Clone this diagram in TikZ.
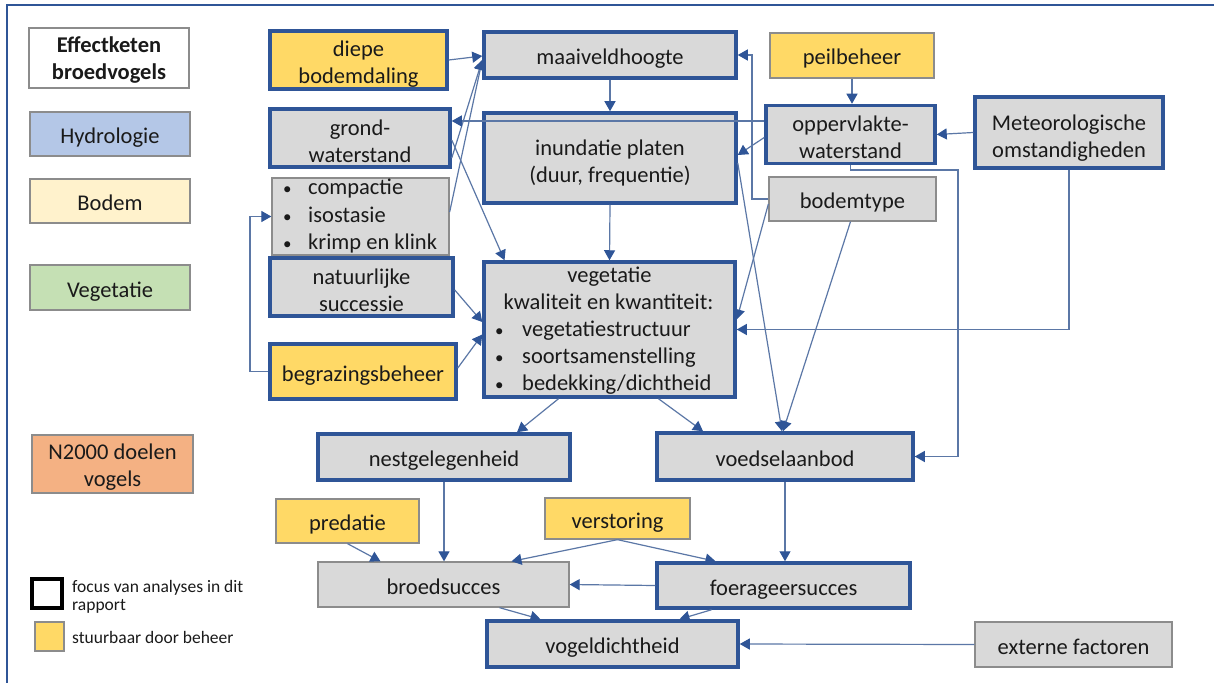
\documentclass[tikz,border=0pt]{standalone}
\usepackage{fontspec}
\setmainfont{Carlito}
\usetikzlibrary{arrows.meta}
\definecolor{boxblue}{HTML}{2F5597}
\definecolor{boxgray}{HTML}{D9D9D9}
\definecolor{thingray}{HTML}{8C8C8C}
\definecolor{manageyellow}{HTML}{FFD966}
\definecolor{hydro}{HTML}{B4C7E7}
\definecolor{soil}{HTML}{FFF2CC}
\definecolor{veggreen}{HTML}{C5E0B4}
\definecolor{natura}{HTML}{F4B183}
\definecolor{linecol}{HTML}{5B77A6}
\definecolor{textdark}{HTML}{1A1A1A}
\newcommand{\mystrutup}[1]{\rule{0pt}{#1}}
\newcommand{\mybullet}{{\fontsize{17}{17}\selectfont\textbullet}}
\begin{document}
\begin{tikzpicture}[x=1pt,y=-1pt,
  every node/.style={font=\fontsize{22.5}{27}\selectfont, text=textdark},
  base/.style={rectangle, inner sep=0pt, align=center,
    execute at begin node={\rule{0pt}{24pt}},
    execute at end node={\rule[-5pt]{0pt}{0pt}}},
  sz/.style 2 args={minimum width=#1, minimum height=#2},
  thickbox/.style={base, draw=boxblue, line width=3.5pt, fill=boxgray},
  thinbox/.style={base, draw=thingray, line width=1.3pt, fill=boxgray},
  manage/.style={fill=manageyellow},
  legendbox/.style={base, draw=thingray, line width=1.3pt},
  conn/.style={draw=linecol, line width=1.2pt, -{Triangle[length=10pt,width=11pt,color=boxblue]}},
  item/.style={anchor=west, inner sep=0pt, text height=16pt, text depth=5pt},
  small/.style={font=\fontsize{17.5}{18.5}\selectfont, anchor=west, align=left, inner sep=0pt},
]
\clip (0,0) rectangle (1214,682);
\fill[white] (0,0) rectangle (1214,682);
\draw[boxblue, line width=2.5pt] (7,5) rectangle (1225,695);

% legend
\node[legendbox, fill=white, sz={160pt}{60pt}, font=\fontsize{22.5}{27}\selectfont\bfseries] (eff) at (109,58) {\mystrutup{22pt}Effectketen\\broedvogels};
\node[legendbox, fill=hydro, sz={160pt}{44pt}] (hyd) at (110,134) {Hydrologie};
\node[legendbox, fill=soil, sz={160pt}{44pt}] (bod) at (110,201) {Bodem};
\node[legendbox, fill=veggreen, sz={160pt}{45pt}] (vegl) at (110,287.5) {Vegetatie};
\node[legendbox, fill=natura, sz={161pt}{58pt}] (n2000) at (112.5,464) {\mystrutup{22pt}N2000 doelen\\vogels};
\node[base, draw=black, line width=4pt, fill=white, sz={30pt}{29pt}] (focussq) at (47,593.5) {};
\node[small] (focustxt) at (72,597) {focus van analyses in dit\\rapport};
\node[legendbox, fill=manageyellow, sz={29pt}{27pt}] (yelsq) at (49.5,636.5) {};
\node[small] (yeltxt) at (72,637) {stuurbaar door beheer};

% left column
\node[thickbox, manage, sz={177pt}{56pt}] (diepe) at (358.5,60) {\mystrutup{26pt}diepe\\bodemdaling};
\node[thickbox, sz={180pt}{56pt}] (grond) at (360,138) {\mystrutup{26pt}grond-\\waterstand};
\node[thinbox, sz={177pt}{77pt}] (compactie) at (360.5,216.5) {};
\node[item] (cb1) at (283,189) {\mybullet};
\node[item] (cb2) at (283,217) {\mybullet};
\node[item] (cb3) at (283,244) {\mybullet};
\node[item] (ct1) at (308,189) {compactie};
\node[item] (ct2) at (308,217) {isostasie};
\node[item] (ct3) at (308,244) {krimp en klink};
\node[thickbox, sz={183pt}{50pt}] (natuur) at (361.5,287) {\mystrutup{26pt}natuurlijke\\successie};
\node[thickbox, manage, sz={186pt}{55pt}] (begraz) at (363,371.5) {begrazingsbeheer};

% middle column
\node[thickbox, sz={252pt}{46pt}] (maaiveld) at (610,55) {maaiveldhoogte};
\node[thickbox, sz={252pt}{90pt}] (inundatie) at (610,158) {\mystrutup{27pt}inundatie platen\\(duur, frequentie)};
\node[thickbox, sz={251pt}{135pt}] (vegetatie) at (609.5,329.5) {};
\node[item, anchor=center] (vt1) at (609.5,277) {vegetatie};
\node[item, anchor=center] (vt2) at (608.5,304) {kwaliteit en kwantiteit:};
\node[item] (vb1) at (495,331) {\mybullet};
\node[item] (vb2) at (495,358) {\mybullet};
\node[item] (vb3) at (495,385) {\mybullet};
\node[item] (vi1) at (522,331) {vegetatiestructuur};
\node[item] (vi2) at (522,358) {soortsamenstelling};
\node[item] (vi3) at (522,385) {bedekking/dichtheid};

% right column
\node[thinbox, manage, sz={164pt}{45pt}] (peil) at (852,55.5) {peilbeheer};
\node[thickbox, sz={169pt}{55pt}] (opp) at (850.5,134.5) {\mystrutup{26pt}oppervlakte-\\waterstand};
\node[thinbox, sz={167pt}{44pt}] (bodemtype) at (852.5,199) {bodemtype};
\node[thickbox, sz={188pt}{71pt}] (meteo) at (1069,132.5) {\mystrutup{27pt}Meteorologische\\omstandigheden};

% lower part
\node[thickbox, sz={252pt}{46pt}] (nest) at (444,457) {nestgelegenheid};
\node[thickbox, sz={256pt}{47pt}] (voedsel) at (785,456.5) {voedselaanbod};
\node[thinbox, manage, sz={143pt}{44pt}] (predatie) at (347.5,521) {predatie};
\node[thinbox, manage, sz={145pt}{41pt}] (verstoring) at (617.5,518.5) {verstoring};
\node[thinbox, sz={251pt}{45pt}] (broed) at (443.5,584.5) {broedsucces};
\node[thickbox, sz={253pt}{45pt}] (foerageer) at (783.5,585.5) {foerageersucces};
\node[thickbox, sz={251pt}{46pt}] (vogel) at (612.5,644) {vogeldichtheid};
\node[thinbox, sz={197pt}{45pt}] (externe) at (1073.5,644.5) {externe factoren};

% helper coordinates
\coordinate (c1) at (958,170);
\coordinate (c2) at (752,199);
\coordinate (c3) at (250,371.5);

% connectors
\draw[conn] (diepe.east) -- ([yshift=-1pt]maaiveld.west);
\draw[conn] ([yshift=-20pt]grond.east) -- ([yshift=-5pt]maaiveld.west);
\draw[conn] ([yshift=4.5pt]compactie.east) -- ([yshift=-5pt]maaiveld.west);
\draw[conn] ([yshift=13.5pt]opp.west) -- ([yshift=17pt]grond.east);
\draw[conn] (maaiveld.south) -- (inundatie.north);
\draw[conn] (peil.south) -- (peil.south |- opp.north);
\draw[conn] (meteo.west) -- (opp.east);
\draw[conn] ([yshift=-3pt]opp.west) -- ([yshift=3pt]inundatie.east);
\draw[conn] (opp.south) |- (c1) |- (voedsel.east);
\draw[conn] (meteo.south) |- (vegetatie.east);
\draw[conn] (bodemtype.west) -- (c2) |- (maaiveld.east);
\draw[conn] ([yshift=-5pt]bodemtype.west) -- ([yshift=10pt]vegetatie.east);
\draw[conn] ([xshift=-2pt]bodemtype.south) -- ([xshift=-2pt]voedsel.north);
\draw[conn] ([yshift=-5pt]inundatie.east) -- ([xshift=-3pt]voedsel.north);
\draw[conn] (inundatie.south) -- (vegetatie.north);
\draw[conn] ([yshift=-2pt]grond.east) -- ([xshift=-105pt]vegetatie.north);
\draw[conn] ([yshift=-3pt]natuur.east) -- ([yshift=7.5pt]vegetatie.west);
\draw[conn] ([yshift=3.5pt]begraz.east) -- ([yshift=-5pt]vegetatie.west);
\draw[conn] (begraz.west) -- (c3) |- (compactie.west);
\draw[conn] ([xshift=-51pt]vegetatie.south) -- ([xshift=73pt]nest.north);
\draw[conn] ([xshift=49pt]vegetatie.south) -- ([xshift=-82pt]voedsel.north);
\draw[conn] (nest.south) -- (nest.south |- broed.north);
\draw[conn] (predatie.south) -- ([xshift=-63pt]broed.north);
\draw[conn] (verstoring.south) -- ([xshift=68pt]broed.north);
\draw[conn] (verstoring.south) -- ([xshift=-68pt]foerageer.north);
\draw[conn] (voedsel.south) -- (voedsel.south |- foerageer.north);
\draw[conn] (foerageer.west) -- (broed.east);
\draw[conn] ([xshift=56pt]broed.south) -- ([xshift=-72pt]vogel.north);
\draw[conn] ([xshift=-72pt]foerageer.south) -- ([xshift=67pt]vogel.north);
\draw[conn] (externe.west) -- (vogel.east);
\end{tikzpicture}
\end{document}
